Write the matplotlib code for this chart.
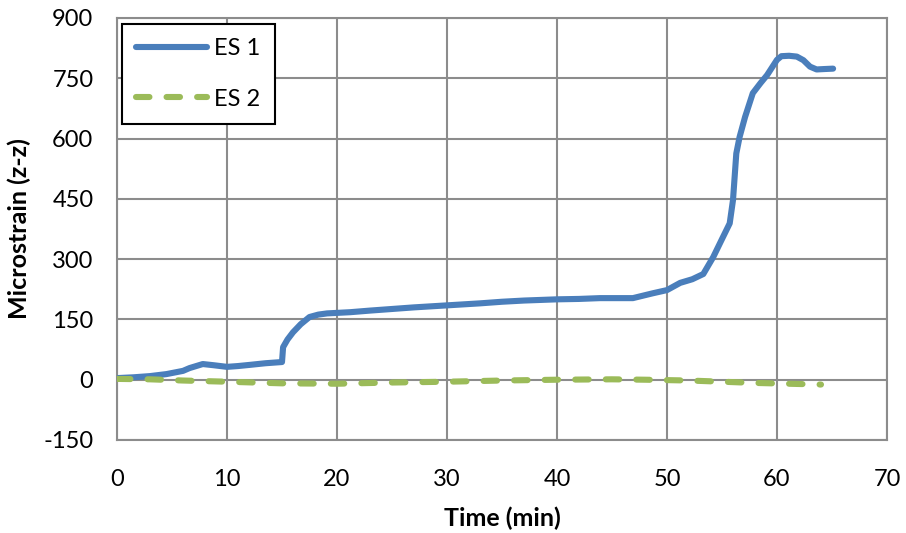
import matplotlib
matplotlib.use("Agg")
import matplotlib.pyplot as plt

plt.rcParams['font.family'] = ['Lato', 'DejaVu Sans']
plt.rcParams['axes.unicode_minus'] = False

# ES 1 (blue, solid)
t_es1 = [0, 1.5, 3, 4.5, 6, 6.6, 7.8, 8.8, 10, 11, 12.1, 13.5, 15, 15.1, 15.5, 16, 16.7,
         17.5, 18.3, 19.1, 21.2, 23, 25, 27, 30, 33, 35, 37, 40, 42, 43.9, 46.9, 48.7,
         50, 51.2, 52.3, 53.3, 54.2, 55, 55.7, 56, 56.3, 56.6, 57.1, 57.8, 58.5, 59.1,
         60, 60.4, 61.1, 61.8, 62.4, 63, 63.6, 64.3, 65.1]
v_es1 = [4, 6, 9, 14, 22, 29, 39, 36, 32, 34, 37, 41, 44, 81, 100, 118, 138,
         156, 162, 165, 168, 172, 176, 180, 185, 190, 194, 197, 200, 201, 203, 203, 215,
         223, 241, 250, 263, 305, 350, 389, 447, 563, 604, 654, 713, 738, 758,
         796, 805, 806, 804, 795, 779, 772, 773, 774]

# ES 2 (green, dashed)
t_es2 = [0, 3, 6, 10, 15, 20, 25, 30, 35, 40, 45, 48, 52, 55, 58, 61, 64]
v_es2 = [2, 1, -2, -5, -9, -10, -7, -5, -2, 0, 1, 0, -2, -5, -8, -10, -12]

x_ticks = [0, 10, 20, 30, 40, 50, 60, 70]
y_ticks = [-150, 0, 150, 300, 450, 600, 750, 900]

fig = plt.figure(figsize=(9.06, 5.33), dpi=100)
ax = fig.add_axes([117/906, 1-440/533, 770/906, 422/533])

ax.plot(t_es1, v_es1, color='#4a7ebb', lw=4.4, solid_capstyle='round',
        solid_joinstyle='round', label='ES 1', zorder=3)
ax.plot(t_es2, v_es2, color='#9bbb59', lw=4.4, dashes=(2.2, 2.8),
        dash_capstyle='round', label='ES 2', zorder=3)

ax.set_xlim(0, 70)
ax.set_ylim(-150, 900)
ax.set_xticks(x_ticks)
ax.set_yticks(y_ticks)
ax.tick_params(axis='both', length=0, labelsize=17)
ax.tick_params(axis='x', pad=21)
ax.tick_params(axis='y', pad=17)
ax.grid(True, color='#8c8c8c', lw=1.5)
ax.set_axisbelow(True)
for s in ax.spines.values():
    s.set_color('#8c8c8c')
    s.set_linewidth(1.5)

ax.set_xlabel('Time (min)', fontsize=18, fontweight='bold', labelpad=12)
ax.set_ylabel('Microstrain (z-z)', fontsize=18, fontweight='bold', labelpad=9)

leg = ax.legend(loc='upper left', bbox_to_anchor=(0.0065, 0.986), borderaxespad=0,
                fontsize=17, frameon=True, fancybox=False, handlelength=3.0,
                labelspacing=1.25, borderpad=0.6, handletextpad=0.3)
leg.get_frame().set_edgecolor('black')
leg.get_frame().set_linewidth(1.5)
leg.get_frame().set_alpha(1)

fig.savefig('out.png', dpi=100)
